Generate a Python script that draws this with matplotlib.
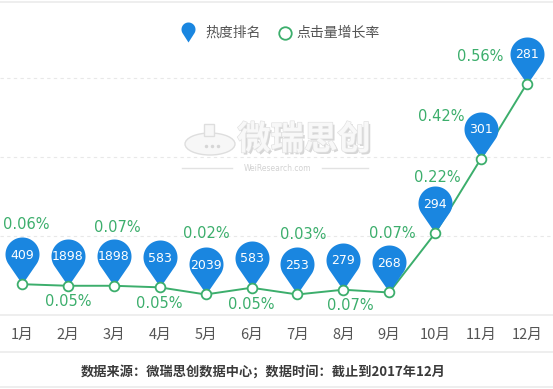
import matplotlib
matplotlib.use("Agg")
import matplotlib.pyplot as plt
import matplotlib.patheffects as pe
from matplotlib.path import Path
from matplotlib.patches import Ellipse, Rectangle
import numpy as np

plt.rcParams["font.family"] = ["DejaVu Sans", "Noto Sans CJK SC"]

# ---- data ----
months = ["1月", "2月", "3月", "4月", "5月", "6月", "7月", "8月", "9月", "10月", "11月", "12月"]
rank = [409, 1898, 1898, 583, 2039, 583, 253, 279, 268, 294, 301, 281]
growth_labels = ["0.06%", "0.05%", "0.07%", "0.05%", "0.02%", "0.05%",
                 "0.03%", "0.07%", "0.07%", "0.22%", "0.42%", "0.56%"]
# height of each point as drawn in the picture (the source does not plot to scale)
growth_plot = [0.078, 0.074, 0.074, 0.070, 0.052, 0.069,
               0.052, 0.064, 0.057, 0.207, 0.396, 0.586]

# label offsets in pixels (dx, dy up)
label_off = [(4, 60), (0, -16), (4, 58), (0, -16), (1, 61), (0, -17),
             (6, 60), (7, -16), (3, 59), (2, 56), (-40, 42), (-47, 27)]

GREEN = "#3cae6c"
BLUE = "#1a86e0"
PX = 0.72  # points per pixel at dpi 100


def pin_path(c, r, n=80):
    # teardrop: tip at origin, round head of radius r centred c above
    beta = np.arccos(r / c)
    theta = np.linspace(-np.pi / 2 + beta, 3 * np.pi / 2 - beta, n)
    verts = [(0, 0)] + [(r * np.cos(t), c + r * np.sin(t)) for t in theta] + [(0, 0)]
    codes = [Path.MOVETO] + [Path.LINETO] * n + [Path.CLOSEPOLY]
    return Path(verts, codes)


W, H = 553, 389
fig = plt.figure(figsize=(W / 100, H / 100), dpi=100)
fig.patch.set_facecolor("white")

# overlay in pixel coords for frame lines, legend and watermark
bg = fig.add_axes([0, 0, 1, 1], zorder=0)
bg.set_xlim(0, W)
bg.set_ylim(H, 0)
bg.axis("off")

for yy in [2, 315, 352, 387]:
    bg.plot([0, W], [yy, yy], color="#ebebeb", lw=1.2)

# legend
bg.plot([188], [42], ls="none", marker=pin_path(13, 7), ms=2 * 20 * PX,
        mfc=BLUE, mec="none")
bg.text(205, 33, "热度排名", fontsize=10, color="#555555", va="center",
        family=["Noto Sans CJK SC"])
bg.plot([285], [33], ls="none", marker="o", ms=9, mfc="white", mec=GREEN, mew=1.3)
bg.text(296, 33, "点击量增长率", fontsize=10, color="#555555", va="center",
        family=["Noto Sans CJK SC"])

# watermark
bg.add_patch(Ellipse((210, 144), 50, 22, fc="#f7f7f7", ec="#dedede", lw=1))
bg.add_patch(Rectangle((204, 124), 10, 12, fc="#f7f7f7", ec="#dedede", lw=1))
for dx in [-6, 0, 6]:
    bg.plot([212 + dx], [146], marker="o", ms=2.5, mfc="#d6d6d6", mec="none")
bg.text(304, 140, "微瑞思创", fontsize=24, color="#f8f8f8", ha="center", va="center",
        fontweight="bold", family=["Noto Sans CJK SC"],
        path_effects=[pe.withSimplePatchShadow(offset=(1.5, -1.5), shadow_rgbFace="#d6d6d6", alpha=1),
                      pe.withStroke(linewidth=1.0, foreground="#e2e2e2")])
bg.text(277, 168, "WeiResearch.com", fontsize=5.5, color="#d2d2d2", ha="center", va="center")
bg.plot([182, 232], [168, 168], color="#e2e2e2", lw=1)
bg.plot([322, 368], [168, 168], color="#e2e2e2", lw=1)

bg.text(263, 372, "数据来源：微瑞思创数据中心；数据时间：截止到2017年12月",
        fontsize=9.5, fontweight="bold", color="#3a3a3a", ha="center", va="center",
        family=["Noto Sans CJK SC", "DejaVu Sans"])

# ---- main chart ----
ax = fig.add_axes([0, 1 - 315 / H, 1, 315 / H], zorder=1)
ax.patch.set_alpha(0)
x = np.arange(len(months))
step = 45.9
ax.set_xlim(-22 / step, (W - 22) / step)
ax.set_ylim(0, 315 / 395)

for g in [0.2, 0.4, 0.6]:
    ax.axhline(g, color="#e8e8e8", lw=0.8, ls=(0, (3, 3)), zorder=1)

ax.plot(x, growth_plot, color=GREEN, lw=1.4, zorder=2)
ax.plot(x, growth_plot, ls="none", marker=pin_path(30, 17), ms=2 * 47 * PX,
        mfc=BLUE, mec="none", zorder=3)
ax.plot(x, growth_plot, ls="none", marker="o", ms=7, mfc="white", mec=GREEN,
        mew=1.3, zorder=4)

for xi, yi, r, lab, (dx, dy) in zip(x, growth_plot, rank, growth_labels, label_off):
    ax.annotate(str(r), (xi, yi), xytext=(0, 29 * PX), textcoords="offset points",
                ha="center", va="center", color="white", fontsize=9, zorder=5)
    ax.annotate(lab, (xi, yi), xytext=(dx * PX, dy * PX), textcoords="offset points",
                ha="center", va="center", color=GREEN, fontsize=10.5, zorder=5)

ax.set_xticks(x)
ax.set_xticklabels(months, fontsize=10.5, color="#555555", family=["Noto Sans CJK SC"])
ax.tick_params(axis="x", length=0, pad=9)
ax.set_yticks([])
for s in ax.spines.values():
    s.set_visible(False)

fig.savefig("out.png", dpi=100, facecolor="white")
